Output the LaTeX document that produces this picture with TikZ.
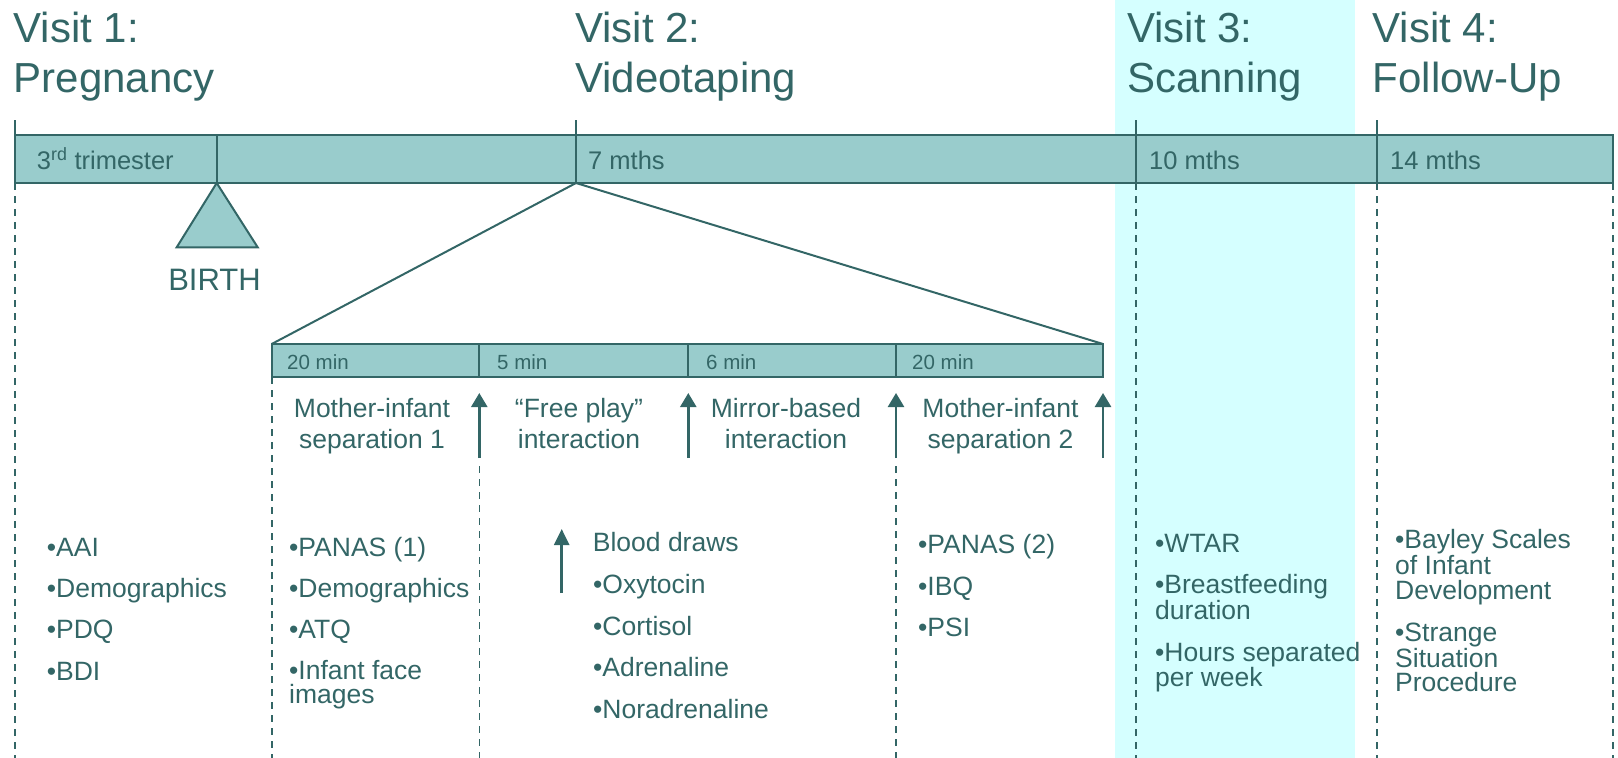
\documentclass[tikz,border=0pt]{standalone}
\usepackage{fontspec}
\setmainfont{Liberation Sans}
\usetikzlibrary{arrows.meta}
\definecolor{dk}{RGB}{51,102,102}
\definecolor{barfill}{RGB}{153,204,204}
\definecolor{band}{RGB}{213,255,255}
\begin{document}
\begin{tikzpicture}[x=1pt,y=-1pt,
  every node/.style={inner sep=0pt, text=dk},
  ttl/.style={anchor=base west, font=\fontsize{42}{50}\selectfont, align=left},
  barlbl/.style={anchor=base west, font=\fontsize{25.5}{30}\selectfont},
  sublbl/.style={anchor=base west, font=\fontsize{20.5}{24}\selectfont},
  act/.style={anchor=base, font=\fontsize{26.5}{31}\selectfont, align=center},
  item/.style={anchor=base west, font=\fontsize{26.5}{24.5}\selectfont, align=left},
  vdashed/.style={draw=dk, line width=1.6pt, dash pattern=on 7pt off 6pt},
  tl/.style={draw=dk, line width=2pt},
  barbox/.style={draw=dk, fill=barfill, line width=2pt},
  uparrow/.style={draw=dk, line width=2.5pt, -{Triangle[length=14pt,width=16pt]}},
]
\useasboundingbox (0,0) rectangle (1618,758);
% Visit 3 band
\fill[band] (1115,0) rectangle (1355,758);

% main bar
\draw[barbox] (15,135) rectangle (1613,183);
\coordinate (t1) at (15,183);
\coordinate (tb) at (216.7,183);
\coordinate (t2) at (576,183);
\coordinate (t3) at (1136,183);
\coordinate (t4) at (1377,183);
\coordinate (t5) at (1613,183);
\foreach \c in {t1,t2,t3,t4}{\draw[tl] (\c) -- ++(0,-63);}
\draw[tl] (tb) -- ++(0,-48);

% dashed lines from main bar
\foreach \c in {t1,t3,t4,t5}{\draw[vdashed] (\c) -- ++(0,575);}

% titles (base = last line)
\node[ttl] (v1) at (13.5,92.5) {Visit 1:\\Pregnancy};
\node[ttl] (v2) at (575,92.5) {Visit 2:\\Videotaping};
\node[ttl] (v3) at (1127,92.5) {Visit 3:\\Scanning};
\node[ttl] (v4) at (1372.5,92.5) {Visit 4:\\Follow-Up};

% bar labels
\node[barlbl] (l1) at (36.7,169.5) {3\textsuperscript{rd} trimester};
\node[barlbl] (l2) at (588,169.5) {7 mths};
\node[barlbl] (l3) at (1149,169.5) {10 mths};
\node[barlbl] (l4) at (1390,169.5) {14 mths};

% birth
\draw[barbox, line join=miter] (tb) -- (176.7,247.3) -- (257.7,247.3) -- cycle;
\node[anchor=base, font=\fontsize{31}{36}\selectfont] (birth) at (214.5,290.7) {BIRTH};

% sub bar
\coordinate (s0) at (271.7,344);
\coordinate (s4) at (1103,344);
\draw[tl] (t2) -- (s0);
\draw[tl] (t2) -- (s4);
\draw[barbox] (271.7,344) rectangle (1103,376.7);
\foreach \x in {479.3,688.3,896}{\draw[tl] (\x,344) -- (\x,376.7);}
\node[sublbl] (m1) at (287,369.3) {20 min};
\node[sublbl] (m2) at (497,369.3) {5 min};
\node[sublbl] (m3) at (706,369.3) {6 min};
\node[sublbl] (m4) at (912,369.3) {20 min};

% arrows
\foreach \x in {479.3,688.3,896,1103}{\draw[uparrow] (\x,458) -- (\x,393);}
% dashed lines from sub bar
\draw[vdashed] (271.7,377) -- (271.7,758);
\draw[vdashed] (479.3,466) -- (479.3,758);
\draw[vdashed] (896,466) -- (896,758);

% activity labels (base = last line)
\node[act] (a1) at (372,448) {Mother-infant\\separation 1};
\node[act] (a2) at (579,448) {“Free play”\\interaction};
\node[act] (a3) at (786,448) {Mirror-based\\interaction};
\node[act] (a4) at (1000.5,448) {Mother-infant\\separation 2};

% column 1
\node[item] (c1a) at (46.7,556) {•AAI};
\node[item] (c1b) at (46.7,597) {•Demographics};
\node[item] (c1c) at (46.7,638) {•PDQ};
\node[item] (c1d) at (46.7,680) {•BDI};
% column 2
\node[item] (c2a) at (289,556) {•PANAS (1)};
\node[item] (c2b) at (289,597) {•Demographics};
\node[item] (c2c) at (289,638) {•ATQ};
\node[item] (c2d) at (289,703.5) {•Infant face\\images};
% column 3
\draw[draw=dk, line width=2.5pt, -{Triangle[length=16pt,width=15pt]}] (561.7,593) -- (561.7,529);
\node[item] (c3h) at (592.7,551.7) {Blood draws};
\node[item] (c3a) at (593,593) {•Oxytocin};
\node[item] (c3b) at (593,635) {•Cortisol};
\node[item] (c3c) at (593,676.7) {•Adrenaline};
\node[item] (c3d) at (593,718) {•Noradrenaline};
% column 4
\node[item] (c4a) at (918,553) {•PANAS (2)};
\node[item] (c4b) at (918,595) {•IBQ};
\node[item] (c4c) at (918,636.7) {•PSI};
% column 5
\node[item] (c5a) at (1155,552.7) {•WTAR};
\node[item] (c5b) at (1155,619.5) {•Breastfeeding\\duration};
\node[item] (c5c) at (1155,686.8) {•Hours separated\\per week};
% column 6
\node[item] (c6a) at (1395,599) {•Bayley Scales\\of Infant\\Development};
\node[item] (c6b) at (1395,691.7) {•Strange\\Situation\\Procedure};
\end{tikzpicture}
\end{document}
